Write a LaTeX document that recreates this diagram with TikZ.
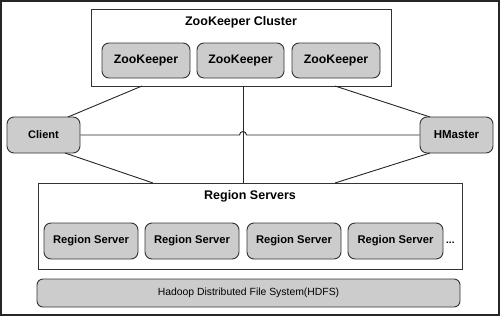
\documentclass[tikz,border=0pt]{standalone}
\usepackage{fontspec}
\setmainfont{Liberation Sans}
\begin{document}
\begin{tikzpicture}[x=1pt,y=-1pt,
  box/.style={draw=black!80, line width=0.9pt, fill=black!20, rounded corners=7pt,
    inner sep=0pt, font=\bfseries\fontsize{12.3}{14}\selectfont},
  rsbox/.style={box, minimum width=94pt, minimum height=36pt, font=\bfseries\fontsize{11.2}{13}\selectfont},
  group/.style={draw=black!80, line width=0.9pt, fill=white, inner sep=0pt},
  title/.style={font=\bfseries\fontsize{12.5}{14}\selectfont, inner sep=0pt},
  link/.style={draw=black!85, line width=0.9pt}]
% outer frame
\draw[line width=2pt, black!85] (1,1) rectangle (499,315);
\useasboundingbox (0,0) rectangle (500,316);

% ZooKeeper cluster
\node[group, minimum width=300pt, minimum height=77pt] (zkc) at (241,47.5) {};
\node[title] (zkt) at (241,22) {ZooKeeper Cluster};
\node[box, minimum width=88pt, minimum height=35pt] (zk1) at (146,60.5) {ZooKeeper};
\node[box, minimum width=87pt, minimum height=35pt] (zk2) at (240.5,60.5) {ZooKeeper};
\node[box, minimum width=88pt, minimum height=35pt] (zk3) at (336,60.5) {ZooKeeper};

% Client and HMaster
\node[box, minimum width=73pt, minimum height=36pt, font=\bfseries\fontsize{11}{13}\selectfont] (client) at (43.5,135) {Client};
\node[box, minimum width=73pt, minimum height=36pt, font=\bfseries\fontsize{11.5}{13}\selectfont] (hmaster) at (456.5,135) {HMaster};

% Region servers
\node[group, minimum width=424pt, minimum height=86pt] (rsg) at (250,226) {};
\node[title] (rst) at (250,196) {Region Servers};
\node[rsbox] (rs1) at (91,241) {Region Server};
\node[rsbox] (rs2) at (192,241) {Region Server};
\node[rsbox] (rs3) at (294,241) {Region Server};
\node[rsbox, minimum width=95pt] (rs4) at (395.5,241) {Region Server};
\node[font=\bfseries\fontsize{10}{12}\selectfont, inner sep=0pt, anchor=west] (dots) at (446,243) {...};

% HDFS
\node[box, minimum width=423pt, minimum height=28pt, font=\fontsize{10.4}{12}\selectfont, rounded corners=6pt] (hdfs) at (248.5,293) {Hadoop Distributed File System(HDFS)};

% connectors
\coordinate (zkl) at (142,86);
\coordinate (zkr) at (335,86);
\coordinate (zkm) at (243,86);
\coordinate (rsl) at (153,183);
\coordinate (rsr) at (335,183);
\coordinate (rsm) at (243,183);
\coordinate (cl) at (68,117);
\coordinate (cb) at (65,153);
\coordinate (hm) at (430,117);
\coordinate (hb) at (430,153);
\draw[link] (zkl) -- (cl);
\draw[link] (zkr) -- (hm);
\draw[link] (cb) -- (rsl);
\draw[link] (hb) -- (rsr);
\draw[link] (zkm) -- (rsm);
\draw[link] (client.east) -- (239.5,135) arc[start angle=180, end angle=0, radius=3.5pt] -- (hmaster.west);
\end{tikzpicture}
\end{document}
